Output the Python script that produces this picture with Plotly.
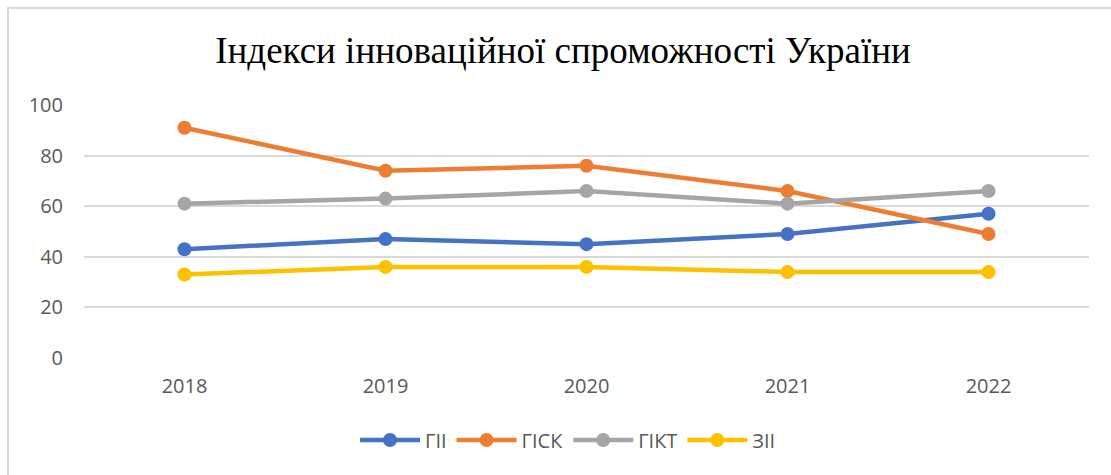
import plotly.graph_objects as go

years = ["2018", "2019", "2020", "2021", "2022"]
gii = [43, 47, 45, 49, 57]
gisk = [91, 74, 76, 66, 49]
gikt = [61, 63, 66, 61, 66]
zii = [33, 36, 36, 34, 34]

series = [("ГІІ", gii, "#4472C4"), ("ГІСК", gisk, "#ED7D31"),
          ("ГІКТ", gikt, "#A5A5A5"), ("ЗІІ", zii, "#FFC000")]

fig = go.Figure()
for name, vals, col in series:
    fig.add_trace(go.Scatter(x=years, y=vals, name=name, mode="lines+markers",
                             line=dict(color=col, width=4.5),
                             marker=dict(color=col, size=14)))

L, R, T, B = 84, 22, 105, 117
W, H = 1111, 475
pw, ph = W - L - R, H - T - B

fig.update_layout(
    width=W, height=H,
    margin=dict(l=L, r=R, t=T, b=B),
    paper_bgcolor="white", plot_bgcolor="white",
    title=dict(text="Індекси інноваційної спроможності України",
               font=dict(family="Liberation Serif", size=37, color="black"),
               x=563 / W, xanchor="center", y=1 - 50 / H, yanchor="middle"),
    font=dict(family="Open Sans", size=20, color="#595959"),
    xaxis=dict(type="category", range=[-0.5, 4.5], showgrid=False, showline=False,
               zeroline=False, ticks="", ticklabelstandoff=14,
               tickfont=dict(size=20, color="#595959")),
    yaxis=dict(range=[0, 100], dtick=20, showgrid=True, gridcolor="#D9D9D9", gridwidth=1.5,
               zeroline=False, showline=False, ticks="", ticklabelstandoff=20,
               tickfont=dict(size=20, color="#595959")),
    legend=dict(orientation="h", x=(568 - L) / pw, xanchor="center", y=(T + ph - 440) / ph,
                yanchor="middle", font=dict(size=20, color="#595959"),
                itemwidth=60, tracegroupgap=0),
    showlegend=True,
)

fig.add_shape(type="rect", xref="paper", yref="paper",
              x0=(8 - L) / pw, x1=(W + 10 - L) / pw,
              y0=(T + ph - (H + 10)) / ph, y1=(T + ph - 8) / ph,
              line=dict(color="#D9D9D9", width=2), fillcolor="rgba(0,0,0,0)", layer="below")

fig.write_html("out.html")
